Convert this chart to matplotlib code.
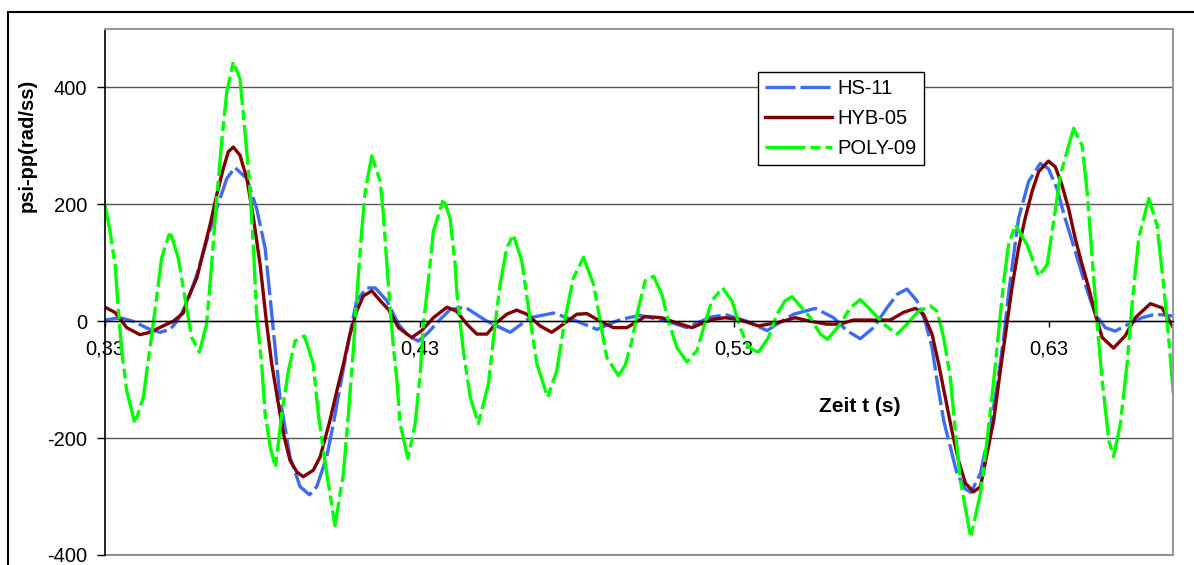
import matplotlib.pyplot as plt
from matplotlib.patches import Rectangle

plt.rcParams['font.family'] = ['Liberation Sans', 'DejaVu Sans']
plt.rcParams['axes.unicode_minus'] = False

# HS-11
t_hs = [0.3300, 0.3348, 0.3389, 0.3443, 0.3475, 0.3507, 0.3529, 0.3560, 0.3592, 0.3623,
        0.3655, 0.3687, 0.3713, 0.3751, 0.3782, 0.3809, 0.3825, 0.3856, 0.3888, 0.3920,
        0.3950, 0.3973, 0.4005, 0.4026, 0.4047, 0.4074, 0.4100, 0.4132, 0.4159, 0.4196,
        0.4233, 0.4264, 0.4296, 0.4328, 0.4360, 0.4397, 0.4445, 0.4514, 0.4588, 0.4651,
        0.4726, 0.4800, 0.4864, 0.4938, 0.5001, 0.5086, 0.5150, 0.5224, 0.5275, 0.5340,
        0.5405, 0.5436, 0.5489, 0.5558, 0.5616, 0.5658, 0.5701, 0.5743, 0.5786, 0.5818,
        0.5849, 0.5881, 0.5907, 0.5929, 0.5945, 0.5966, 0.5987, 0.6008, 0.6035, 0.6053,
        0.6083, 0.6114, 0.6135, 0.6157, 0.6172, 0.6204, 0.6236, 0.6273, 0.6299, 0.6326,
        0.6352, 0.6384, 0.6416, 0.6448, 0.6480, 0.6511, 0.6554, 0.6596, 0.6639, 0.6695]
psi_hs = [2, 6, 0, -14, -19, -14, 0, 30, 80, 137,
          193, 244, 263, 244, 193, 125, 40, -130, -232, -283,
          -297, -283, -232, -175, -113, -34, 35, 57, 57, 35,
          -5, -25, -34, -19, 0, 20, 24, 0, -19, 6,
          14, 0, -14, 3, 10, 0, -11, 7, 11, 0,
          -16, -5, 12, 22, 6, -16, -30, -11, 23, 46,
          55, 35, 0, -45, -102, -170, -215, -260, -287, -293,
          -260, -181, -113, -28, 46, 176, 239, 270, 261, 227,
          176, 120, 63, 12, -11, -17, -5, 6, 12, 9]

# HYB-05
t_hyb = [0.3300, 0.3332, 0.3369, 0.3411, 0.3443, 0.3485, 0.3517, 0.3549, 0.3560, 0.3592,
         0.3613, 0.3634, 0.3655, 0.3676, 0.3692, 0.3708, 0.3729, 0.3751, 0.3772, 0.3793,
         0.3814, 0.3830, 0.3846, 0.3867, 0.3888, 0.3910, 0.3930, 0.3962, 0.3984, 0.4015,
         0.4037, 0.4058, 0.4079, 0.4100, 0.4121, 0.4148, 0.4175, 0.4201, 0.4233, 0.4275,
         0.4307, 0.4344, 0.4387, 0.4418, 0.4450, 0.4482, 0.4514, 0.4546, 0.4577, 0.4609,
         0.4641, 0.4683, 0.4720, 0.4757, 0.4800, 0.4832, 0.4874, 0.4916, 0.4959, 0.5017,
         0.5070, 0.5112, 0.5166, 0.5229, 0.5271, 0.5314, 0.5377, 0.5441, 0.5494, 0.5542,
         0.5595, 0.5637, 0.5679, 0.5796, 0.5838, 0.5876, 0.5902, 0.5929, 0.5950, 0.5971,
         0.5992, 0.6013, 0.6035, 0.6061, 0.6083, 0.6104, 0.6125, 0.6146, 0.6167, 0.6183,
         0.6204, 0.6225, 0.6247, 0.6268, 0.6299, 0.6321, 0.6342, 0.6363, 0.6384, 0.6406,
         0.6427, 0.6448, 0.6470, 0.6506, 0.6543, 0.6575, 0.6623, 0.6660, 0.6695]
psi_hyb = [24, 15, -11, -23, -19, -8, 0, 14, 35, 74,
           120, 165, 216, 261, 290, 298, 284, 244, 176, 97,
           -5, -73, -125, -192, -238, -258, -266, -255, -232, -170,
           -119, -73, -22, 17, 43, 52, 35, 20, -11, -28,
           -16, 6, 24, 17, -5, -22, -22, -2, 12, 19,
           12, -8, -19, -5, 12, 13, 0, -11, -11, 8,
           6, -2, -11, 3, 6, 3, -8, -2, 6, 0,
           -5, -5, 2, 2, 15, 22, 12, -22, -73, -130,
           -187, -238, -277, -292, -283, -226, -170, -85, -5, 57,
           125, 176, 222, 256, 274, 264, 233, 193, 142, 97,
           57, 12, -28, -46, -25, 6, 30, 23, -10]

# POLY-09
t_poly = [0.3300, 0.3316, 0.3332, 0.3342, 0.3353, 0.3369, 0.3395, 0.3422, 0.3443, 0.3464,
          0.3480, 0.3507, 0.3533, 0.3554, 0.3576, 0.3600, 0.3623, 0.3639, 0.3655, 0.3671,
          0.3687, 0.3708, 0.3729, 0.3745, 0.3759, 0.3772, 0.3782, 0.3798, 0.3809, 0.3825,
          0.3842, 0.3862, 0.3883, 0.3904, 0.3934, 0.3962, 0.3978, 0.4000, 0.4031, 0.4058,
          0.4074, 0.4090, 0.4100, 0.4116, 0.4127, 0.4148, 0.4175, 0.4185, 0.4196, 0.4206,
          0.4217, 0.4228, 0.4238, 0.4263, 0.4286, 0.4302, 0.4312, 0.4328, 0.4344, 0.4376,
          0.4397, 0.4413, 0.4419, 0.4439, 0.4461, 0.4487, 0.4519, 0.4535, 0.4556, 0.4577,
          0.4598, 0.4625, 0.4646, 0.4673, 0.4707, 0.4736, 0.4763, 0.4789, 0.4821, 0.4853,
          0.4874, 0.4895, 0.4932, 0.4954, 0.4975, 0.4996, 0.5017, 0.5044, 0.5070, 0.5091,
          0.5118, 0.5150, 0.5182, 0.5203, 0.5229, 0.5263, 0.5293, 0.5319, 0.5346, 0.5377,
          0.5409, 0.5436, 0.5462, 0.5484, 0.5515, 0.5542, 0.5574, 0.5597, 0.5637, 0.5669,
          0.5701, 0.5738, 0.5775, 0.5818, 0.5849, 0.5886, 0.5924, 0.5945, 0.5966, 0.5987,
          0.6003, 0.6019, 0.6052, 0.6083, 0.6104, 0.6125, 0.6141, 0.6157, 0.6172, 0.6194,
          0.6231, 0.6268, 0.6295, 0.6311, 0.6337, 0.6379, 0.6406, 0.6422, 0.6438, 0.6454,
          0.6470, 0.6491, 0.6506, 0.6528, 0.6549, 0.6565, 0.6586, 0.6618, 0.6644, 0.6665,
          0.6681, 0.6697]
psi_poly = [199, 154, 97, 23, -50, -119, -175, -130, -45, 40,
            108, 154, 108, 40, -28, -53, -5, 97, 210, 307,
            392, 444, 415, 324, 239, 125, 12, -73, -158, -215,
            -250, -158, -85, -34, -25, -73, -158, -243, -350, -260,
            -158, -45, 40, 154, 222, 283, 239, 182, 97, 23,
            -45, -102, -175, -235, -175, -90, -5, 69, 154, 210,
            176, 97, 46, -50, -130, -175, -107, -28, 63, 125,
            148, 103, 23, -73, -130, -85, 6, 74, 109, 63,
            0, -62, -93, -75, -33, 23, 69, 77, 46, 0,
            -45, -70, -50, -11, 35, 57, 35, -11, -45, -53,
            -28, 12, 35, 42, 23, 6, -22, -31, -5, 23,
            37, 17, -5, -22, -5, 17, 26, 17, -28, -96,
            -187, -272, -370, -294, -204, -102, -16, 69, 130, 165,
            131, 77, 97, 154, 250, 330, 301, 222, 108, -5,
            -102, -204, -232, -175, -73, 29, 142, 210, 165, 63,
            -28, -130]

x_ticks = [0.33, 0.43, 0.53, 0.63]
x_labels = ['0,33', '0,43', '0,53', '0,63']
y_ticks = [-400, -200, 0, 200, 400]

fig = plt.figure(figsize=(11.94, 5.65), dpi=100)
ax = fig.add_axes([105 / 1194, 10 / 565, 1068 / 1194, 526 / 565])

# Kurven
ax.plot(t_hs, psi_hs, color='#3D6BF2', lw=2.4, dashes=(9, 1.5), label='HS-11')
ax.plot(t_hyb, psi_hyb, color='#800000', lw=2.4, label='HYB-05')
ax.plot(t_poly, psi_poly, color='#00FF00', lw=2.4, dashes=(12, 1.5, 3, 1.5), label='POLY-09')

ax.set_xlim(0.33, 0.6695)
ax.set_ylim(-400, 500)
ax.set_xticks(x_ticks, x_labels)
ax.set_yticks(y_ticks)

# Gitter und Rahmen wie in Excel
ax.yaxis.grid(True, color='#555555', lw=1)
ax.set_axisbelow(True)
ax.spines['bottom'].set_position(('data', 0))
ax.spines['bottom'].set_color('black')
ax.spines['bottom'].set_linewidth(1)
ax.spines['left'].set_color('black')
ax.spines['left'].set_linewidth(1.2)
for side in ['top', 'right']:
    ax.spines[side].set_color('#999999')
    ax.spines[side].set_linewidth(1.5)
ax.axhline(-400, color='#999999', lw=1.5, clip_on=False, zorder=0.5)

ax.tick_params(axis='x', direction='out', length=4, width=1, pad=9, labelsize=14.5)
ax.tick_params(axis='y', direction='out', length=6, width=1, pad=7, labelsize=14.5)

# Achsentitel
fig.text(27 / 1194, 1 - 145 / 565, 'psi-pp(rad/ss)', rotation=90, ha='center', va='center',
         fontsize=14.5, fontweight='bold')
fig.text(860 / 1194, 1 - 406 / 565, 'Zeit t (s)', ha='center', va='center',
         fontsize=15, fontweight='bold')

leg = ax.legend(loc='upper left', bbox_to_anchor=(758 / 1194, 1 - 72 / 565),
                bbox_transform=fig.transFigure, fontsize=14.5, frameon=True, fancybox=False,
                framealpha=1, edgecolor='black', handlelength=3.3, handletextpad=0.3,
                labelspacing=0.55, borderpad=0.35, borderaxespad=0)
leg.get_frame().set_linewidth(1)

# äußerer Rahmen
fig.patches.append(Rectangle((8 / 1194, -0.5), 2, 0.5 + (565 - 12) / 565, transform=fig.transFigure,
                             fill=False, edgecolor='black', lw=1.5))

plt.savefig('out.png', dpi=100)
plt.close()
